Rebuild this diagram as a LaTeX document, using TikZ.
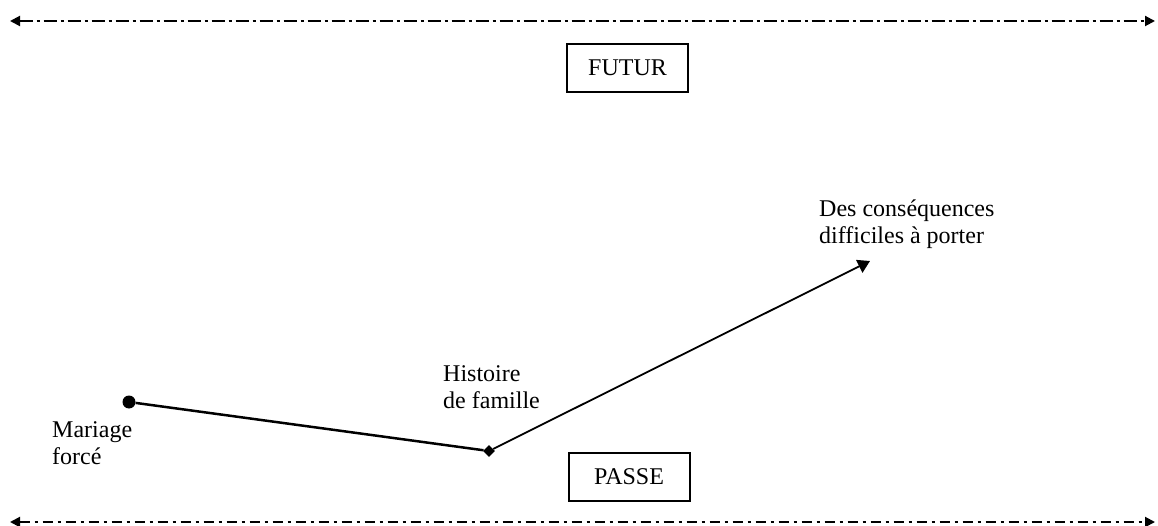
\documentclass[tikz,border=0pt]{standalone}
\usepackage{fontspec}
\setmainfont{Liberation Serif}
\usetikzlibrary{arrows.meta,shapes.geometric}
\begin{document}
\begin{tikzpicture}[x=1pt,y=-1pt,
  lbl/.style={font=\fontsize{24}{27}\selectfont, align=left, inner sep=0pt},
  boxnode/.style={draw, line width=2pt, minimum width=121pt, minimum height=48pt, font=\fontsize{24}{27}\selectfont, inner sep=0pt},
  axis/.style={line width=2pt, {Triangle[length=10pt,width=10pt]}-{Triangle[length=10pt,width=10pt]}},
  seg/.style={line width=2.5pt}]
\useasboundingbox (0,0) rectangle (1158,526);
\coordinate (tl) at (10,21);
\coordinate (tr) at (1155,21);
\coordinate (bl) at (10,522);
\coordinate (br) at (1155,522);
\draw[axis, dash pattern=on 13pt off 4pt on 3pt off 4pt] (tl) -- (tr);
\draw[axis, dash pattern=on 10pt off 5pt on 3pt off 5pt] (bl) -- (br);
\node[boxnode] (futur) at (627.5,68) {FUTUR};
\node[boxnode] (passe) at (629,476.5) {PASSE};
\node[circle, fill, inner sep=0pt, minimum size=13pt] (m) at (129,402) {};
\node[diamond, fill, inner sep=0pt, minimum size=12pt] (h) at (489,451) {};
\coordinate (c) at (870,261);
\draw[seg] (m) -- (h);
\draw[line width=1.8pt, -{Triangle[length=12pt,width=14pt]}] (h) -- (c);
\node[lbl, anchor=north west] (ml) at (52,421) {Mariage\\forcé};
\node[lbl, anchor=north west] (hl) at (443,365) {Histoire\\de famille};
\node[lbl, anchor=north west] (cl) at (819,200) {Des conséquences\\difficiles à porter};
\end{tikzpicture}
\end{document}
